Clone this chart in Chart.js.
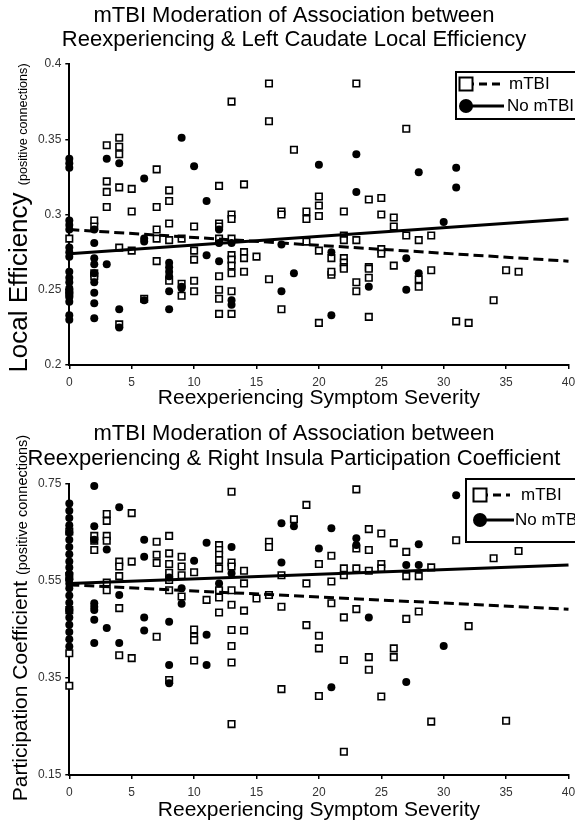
<!DOCTYPE html>
<html>
<head>
<meta charset="utf-8">
<title>mTBI Moderation</title>
<script src="https://cdn.jsdelivr.net/npm/chart.js@4.4.0/dist/chart.umd.min.js"></script>
<style>
  body { margin: 0; background: #fff; }
  canvas { display: block; }
</style>
</head>
<body>
<canvas id="topChart" width="575" height="411"></canvas>
<canvas id="bottomChart" width="575" height="411"></canvas>
<script>
// Shared axis values
const severityTicks = [0, 5, 10, 15, 20, 25, 30, 35, 40];
const fitX = [0, 40];

// Top chart: Left Caudate Local Efficiency
const topYTicks = [0.2, 0.25, 0.3, 0.35, 0.4];
const topMtbiX = [0, 2, 3, 4, 5, 6, 7, 8, 9, 10, 12, 13, 14, 15, 16, 17, 18, 19, 20, 21, 22, 23, 24, 25, 26, 27, 28, 29, 31, 32, 34, 35, 36];
const topMtbiY = [
    [0.284, 0.248], [0.296, 0.292, 0.261, 0.259], [0.346, 0.322, 0.315, 0.305],
    [0.351, 0.345, 0.340, 0.318, 0.278, 0.227], [0.317, 0.302, 0.276], [0.244],
    [0.330, 0.305, 0.290, 0.284, 0.269], [0.316, 0.309, 0.294, 0.283, 0.256],
    [0.284, 0.254, 0.246], [0.292, 0.276, 0.270, 0.256, 0.249],
    [0.319, 0.294, 0.292, 0.284, 0.259, 0.250, 0.244, 0.234],
    [0.375, 0.300, 0.297, 0.284, 0.273, 0.270, 0.266, 0.261, 0.249, 0.234],
    [0.320, 0.275, 0.271, 0.262], [0.272], [0.387, 0.362, 0.257], [0.302, 0.300, 0.237],
    [0.343], [0.302, 0.297, 0.282], [0.312, 0.306, 0.299, 0.276, 0.228], [0.271, 0.260, 0.262],
    [0.302, 0.286, 0.283, 0.271, 0.268, 0.265, 0.264], [0.387, 0.283, 0.255, 0.249],
    [0.310, 0.265, 0.258, 0.264, 0.232], [0.311, 0.300, 0.277, 0.274], [0.298, 0.292, 0.266],
    [0.357, 0.286], [0.283, 0.257, 0.252], [0.286, 0.263], [0.229], [0.228], [0.243], [0.263], [0.262]
];
const topNoMtbiX = [0, 2, 3, 4, 6, 8, 9, 10, 11, 12, 13, 17, 18, 20, 21, 23, 24, 27, 28, 30, 31];
const topNoMtbiY = [
    [0.337, 0.334, 0.331, 0.296, 0.293, 0.290, 0.278, 0.275, 0.272, 0.262, 0.258, 0.255, 0.251, 0.248, 0.245, 0.242, 0.233, 0.230],
    [0.290, 0.281, 0.271, 0.267, 0.261, 0.255, 0.248, 0.241, 0.231], [0.337, 0.267], [0.334, 0.237, 0.225],
    [0.324, 0.284, 0.282, 0.243], [0.268, 0.265, 0.262, 0.259, 0.249, 0.237], [0.351, 0.252, 0.251],
    [0.332], [0.309, 0.273], [0.290, 0.281, 0.269], [0.281, 0.243, 0.240], [0.280, 0.249], [0.261],
    [0.333], [0.275, 0.233], [0.340, 0.315], [0.252], [0.271, 0.250], [0.328, 0.261], [0.295], [0.331, 0.318]
];
const topFitMtbi = [0.290, 0.269];
const topFitNoMtbi = [0.274, 0.297];

// Bottom chart: Right Insula Participation Coefficient
const bottomYTicks = [0.15, 0.35, 0.55, 0.75];
const bottomMtbiX = [0, 2, 3, 4, 5, 7, 8, 9, 10, 11, 12, 13, 14, 15, 16, 17, 18, 19, 20, 21, 22, 23, 24, 25, 26, 27, 28, 29, 31, 32, 34, 35, 36];
const bottomMtbiY = [
    [0.652, 0.560, 0.490, 0.401, 0.334], [0.643, 0.633, 0.614], [0.688, 0.674, 0.643, 0.633, 0.547, 0.531],
    [0.590, 0.580, 0.560, 0.494, 0.397], [0.690, 0.590, 0.391], [0.631, 0.604, 0.587, 0.435],
    [0.643, 0.607, 0.585, 0.567, 0.552, 0.531, 0.346], [0.600, 0.580, 0.562, 0.518],
    [0.568, 0.450, 0.435, 0.428, 0.386], [0.511],
    [0.624, 0.614, 0.604, 0.593, 0.576, 0.531, 0.516, 0.485],
    [0.734, 0.588, 0.580, 0.531, 0.501, 0.449, 0.416, 0.382, 0.255],
    [0.571, 0.545, 0.489, 0.448], [0.514], [0.631, 0.620, 0.521], [0.562, 0.497, 0.327],
    [0.677], [0.707, 0.545, 0.459], [0.585, 0.437, 0.411, 0.313], [0.602, 0.549, 0.504],
    [0.576, 0.562, 0.475, 0.387, 0.198], [0.739, 0.617, 0.576, 0.492],
    [0.657, 0.614, 0.571, 0.393, 0.367], [0.648, 0.585, 0.576, 0.312], [0.628, 0.411, 0.393],
    [0.610, 0.560, 0.472], [0.560, 0.487], [0.578, 0.260], [0.634], [0.457], [0.597], [0.262], [0.612]
];
const bottomNoMtbiX = [0, 2, 3, 4, 6, 8, 9, 10, 11, 12, 13, 17, 18, 20, 21, 23, 24, 27, 28, 30, 31];
const bottomNoMtbiY = [
    [0.710, 0.695, 0.680, 0.665, 0.650, 0.635, 0.620, 0.605, 0.590, 0.578, 0.565, 0.553, 0.545, 0.535, 0.520, 0.505, 0.490, 0.475, 0.460, 0.445, 0.430, 0.415],
    [0.746, 0.663, 0.635, 0.504, 0.497, 0.490, 0.470, 0.422], [0.615, 0.453], [0.702, 0.521, 0.422],
    [0.635, 0.600, 0.475, 0.448], [0.557, 0.466, 0.377, 0.339], [0.535, 0.503], [0.592],
    [0.629, 0.439, 0.377], [0.545], [0.620, 0.566], [0.669, 0.588], [0.663], [0.617],
    [0.659, 0.331], [0.638, 0.624], [0.475], [0.583, 0.342], [0.626, 0.583], [0.416], [0.727]
];
const bottomFitMtbi = [0.542, 0.492];
const bottomFitNoMtbi = [0.545, 0.583];

const fontFamily = "'Liberation Sans', Arial, Helvetica, sans-serif";

function toPoints(xs, ys) {
    const pts = [];
    xs.forEach((x, i) => ys[i].forEach(y => pts.push({ x: x, y: y })));
    return pts;
}

function fitPoints(ys) {
    return fitX.map((x, i) => ({ x: x, y: ys[i] }));
}

// Titles, axis titles and the boxed legend are drawn here
const textPlugin = {
    id: 'texts',
    afterDraw(chart, args, o) {
        const ctx = chart.ctx;
        const area = chart.chartArea;
        ctx.save();
        ctx.fillStyle = '#000';
        ctx.textAlign = 'center';
        ctx.textBaseline = 'middle';
        ctx.font = o.titleSize + 'px ' + fontFamily;
        o.title.forEach((line, i) => ctx.fillText(line, o.titleX, o.titleY[i]));

        ctx.font = o.xTitleSize + 'px ' + fontFamily;
        ctx.fillText(o.xTitle, (area.left + area.right) / 2, o.xTitleY);

        // y title: big name + small note, rotated
        ctx.save();
        ctx.translate(o.yTitleX, o.yTitleMid);
        ctx.rotate(-Math.PI / 2);
        ctx.textAlign = 'left';
        ctx.textBaseline = 'alphabetic';
        ctx.font = o.yBigSize + 'px ' + fontFamily;
        const wb = ctx.measureText(o.yBig + ' ').width;
        ctx.font = o.ySmallSize + 'px ' + fontFamily;
        const ws = ctx.measureText(o.ySmall).width;
        const start = -(wb + ws) / 2;
        ctx.font = o.yBigSize + 'px ' + fontFamily;
        ctx.fillText(o.yBig + ' ', start, 0);
        ctx.font = o.ySmallSize + 'px ' + fontFamily;
        ctx.fillText(o.ySmall, start + wb, 0);
        ctx.restore();

        // legend box
        const lg = o.legend;
        ctx.fillStyle = '#fff';
        ctx.fillRect(lg.x, lg.y, 140, lg.h);
        ctx.strokeStyle = '#000';
        ctx.lineWidth = 2;
        ctx.strokeRect(lg.x, lg.y, 140, lg.h);

        ctx.lineWidth = 3;
        ctx.setLineDash([8, 5]);
        ctx.beginPath();
        ctx.moveTo(lg.x + lg.mark, lg.rows[0]);
        ctx.lineTo(lg.x + lg.lineEnd, lg.rows[0]);
        ctx.stroke();
        ctx.setLineDash([]);
        ctx.beginPath();
        ctx.moveTo(lg.x + lg.mark, lg.rows[1]);
        ctx.lineTo(lg.x + lg.lineEnd + 4, lg.rows[1]);
        ctx.stroke();

        ctx.fillStyle = '#fff';
        ctx.lineWidth = 2;
        ctx.fillRect(lg.x + lg.mark - 6.5, lg.rows[0] - 6.5, 13, 13);
        ctx.strokeRect(lg.x + lg.mark - 6.5, lg.rows[0] - 6.5, 13, 13);
        ctx.fillStyle = '#000';
        ctx.beginPath();
        ctx.arc(lg.x + lg.mark, lg.rows[1], 7, 0, Math.PI * 2);
        ctx.fill();

        ctx.font = lg.size + 'px ' + fontFamily;
        ctx.textAlign = 'left';
        ctx.textBaseline = 'middle';
        ctx.fillText('mTBI', lg.x + lg.text[0], lg.rows[0]);
        ctx.fillText('No mTBI', lg.x + lg.text[1], lg.rows[1]);
        ctx.restore();
    }
};

function makeChart(id, c) {
    const el = document.getElementById(id);
    return new Chart(el, {
        type: 'scatter',
        data: {
            datasets: [
                {
                    label: 'mTBI fit',
                    data: fitPoints(c.fitMtbi),
                    showLine: true,
                    borderColor: '#000',
                    borderWidth: 3,
                    borderDash: [10, 5],
                    pointRadius: 0,
                    clip: false,
                    order: 0
                },
                {
                    label: 'No mTBI fit',
                    data: fitPoints(c.fitNoMtbi),
                    showLine: true,
                    borderColor: '#000',
                    borderWidth: 3,
                    pointRadius: 0,
                    clip: false,
                    order: 0
                },
                {
                    label: 'No mTBI',
                    data: toPoints(c.noMtbiX, c.noMtbiY),
                    pointStyle: 'circle',
                    pointRadius: 4,
                    backgroundColor: '#000',
                    borderColor: '#000',
                    borderWidth: 0,
                    clip: false,
                    order: 1
                },
                {
                    label: 'mTBI',
                    data: toPoints(c.mtbiX, c.mtbiY),
                    pointStyle: 'rect',
                    pointRadius: 4.6,
                    backgroundColor: '#fff',
                    borderColor: '#000',
                    borderWidth: 1.6,
                    clip: false,
                    order: 2
                }
            ]
        },
        options: {
            responsive: false,
            animation: false,
            events: [],
            layout: { padding: { top: c.top, right: 6.5, left: 0, bottom: 0 } },
            plugins: {
                legend: { display: false },
                tooltip: { enabled: false },
                texts: c.texts
            },
            scales: {
                x: {
                    type: 'linear',
                    min: 0,
                    max: 40,
                    afterFit(s) {
                        s.height = c.xAxisH;
                        s.paddingLeft = 0;
                        s.paddingRight = 0;
                    },
                    afterBuildTicks(s) { s.ticks = severityTicks.map(v => ({ value: v })); },
                    ticks: { font: { family: fontFamily, size: 12 }, color: '#333', padding: 6, maxRotation: 0 },
                    grid: { drawOnChartArea: false, tickLength: 4, color: '#000', lineWidth: 1.5 },
                    border: { color: '#000', width: 2 }
                },
                y: {
                    type: 'linear',
                    min: c.yTicks[0],
                    max: c.yTicks[c.yTicks.length - 1],
                    afterFit(s) { s.width = 69.3; },
                    afterBuildTicks(s) { s.ticks = c.yTicks.map(v => ({ value: v })); },
                    ticks: { font: { family: fontFamily, size: 12 }, color: '#333', padding: 4, callback: v => String(v) },
                    grid: { drawOnChartArea: false, tickLength: 4, color: '#000', lineWidth: 1.5 },
                    border: { color: '#000', width: 2 }
                }
            }
        },
        plugins: [textPlugin]
    });
}

makeChart('topChart', {
    top: 64,
    xAxisH: 46,
    yTicks: topYTicks,
    mtbiX: topMtbiX, mtbiY: topMtbiY,
    noMtbiX: topNoMtbiX, noMtbiY: topNoMtbiY,
    fitMtbi: topFitMtbi, fitNoMtbi: topFitNoMtbi,
    texts: {
        title: ['mTBI Moderation of Association between', 'Reexperiencing & Left Caudate Local Efficiency'],
        titleSize: 22, titleX: 294, titleY: [16, 40],
        xTitle: 'Reexperiencing Symptom Severity', xTitleSize: 21, xTitleY: 398,
        yBig: 'Local Efficiency', yBigSize: 26, ySmall: '(positive connections)', ySmallSize: 12.6,
        yTitleX: 27, yTitleMid: 218,
        legend: { x: 456, y: 72, h: 47, rows: [84, 106], mark: 10, lineEnd: 44, text: [53, 51], size: 17 }
    }
});

makeChart('bottomChart', {
    top: 73,
    xAxisH: 47,
    yTicks: bottomYTicks,
    mtbiX: bottomMtbiX, mtbiY: bottomMtbiY,
    noMtbiX: bottomNoMtbiX, noMtbiY: bottomNoMtbiY,
    fitMtbi: bottomFitMtbi, fitNoMtbi: bottomFitNoMtbi,
    texts: {
        title: ['mTBI Moderation of Association between', 'Reexperiencing & Right Insula Participation Coefficient'],
        titleSize: 22, titleX: 294, titleY: [23, 48],
        xTitle: 'Reexperiencing Symptom Severity', xTitleSize: 21, xTitleY: 399,
        yBig: 'Participation Coefficient', yBigSize: 21, ySmall: '(positive connections)', ySmallSize: 14.5,
        yTitleX: 27, yTitleMid: 207,
        legend: { x: 466, y: 68, h: 63, rows: [84, 109], mark: 14, lineEnd: 44, text: [55, 49], size: 17 }
    }
});
</script>
</body>
</html>
